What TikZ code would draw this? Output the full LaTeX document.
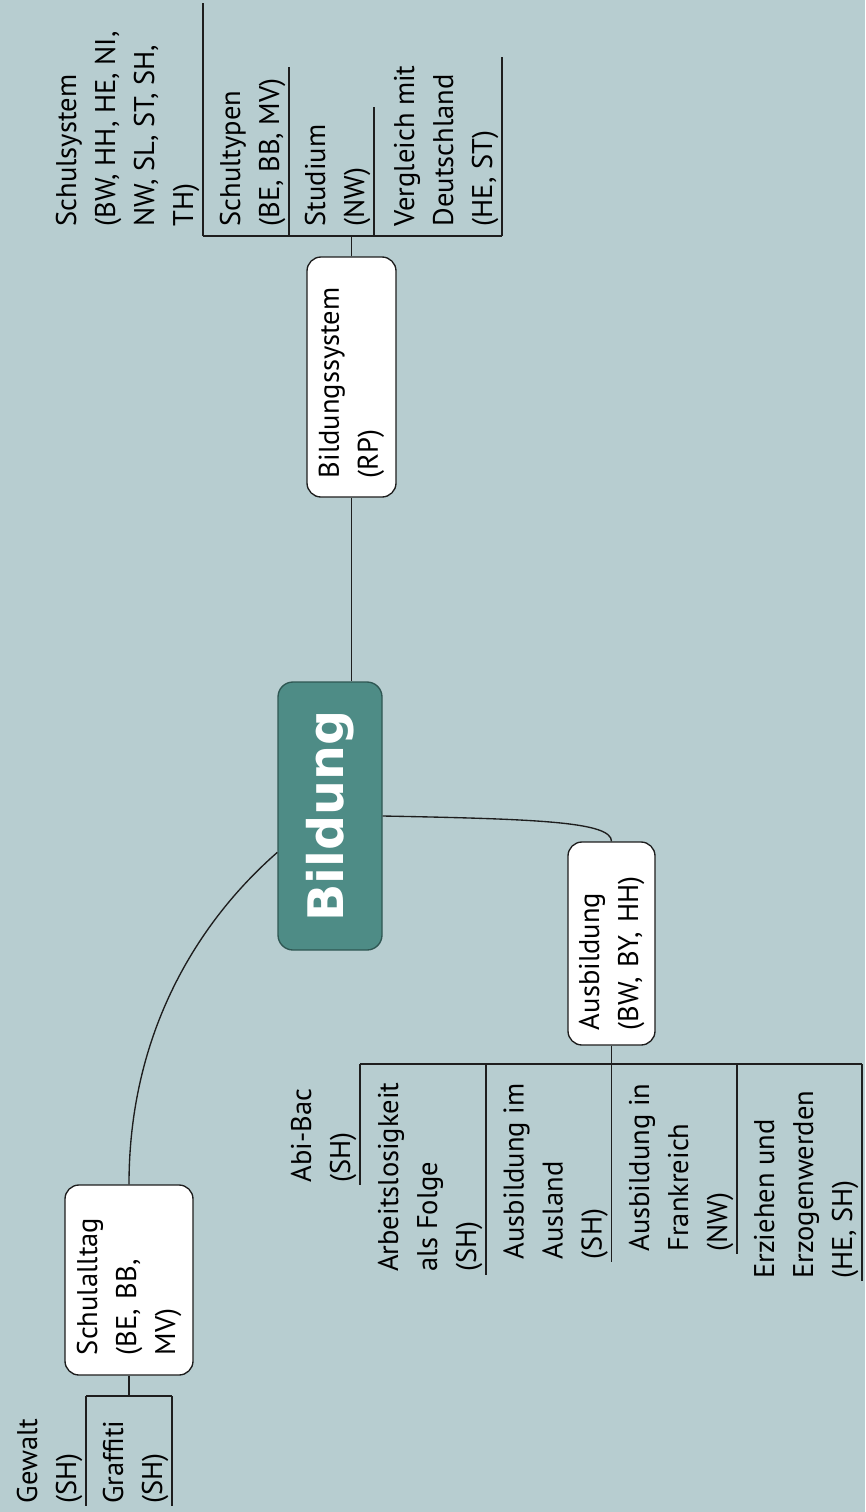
\documentclass[tikz,border=0pt]{standalone}
\usepackage{fontspec}
\setmainfont{PT Sans}
\newfontfamily\rootfont{DejaVu Sans}
\usetikzlibrary{calc}
\definecolor{bgc}{HTML}{B7CDD0}
\definecolor{rootc}{HTML}{4E8C86}
\definecolor{rootb}{HTML}{2F5753}
\definecolor{linec}{HTML}{1E1E1E}
\begin{document}
\begin{tikzpicture}[x=1pt,y=-1pt,line width=1.35pt,
  txt/.style={font=\fontsize{28.5}{39}\selectfont},
  leaf/.style={txt,rotate=90,align=left,inner xsep=2pt,inner ysep=3pt},
  topic/.style={txt,rotate=90,align=left,draw=linec,fill=white,rounded corners=14pt,line width=1.35pt},
  rootnode/.style={rotate=90,draw=rootb,fill=rootc,rounded corners=15pt,text=white,
     font=\rootfont\bfseries\fontsize{49}{55}\selectfont,inner sep=0pt,line width=1.35pt,
     minimum width=268pt,minimum height=104pt},
  conn/.style={draw=linec,line width=1.35pt}]
\fill[bgc] (0,0) rectangle (865,1512);
\useasboundingbox (0,0) rectangle (865,1512);

% root
\node[rootnode] (root) at (330,816) {Bildung};

% main topics
\node[topic,inner xsep=19pt,text width=202pt,minimum height=89pt] (bsys) at (351.5,377) {Bildungssystem\\(RP)};
\node[topic,inner xsep=15pt,text width=173pt,minimum height=87pt] (ausb) at (611.5,943.5) {Ausbildung\\(BW, BY, HH)};
\node[topic,inner xsep=20pt,text width=150pt,minimum height=128pt] (sa) at (129,1280) {Schulalltag\\(BE, BB,\\MV)};

% connectors from root
\draw[conn] (root.east -| bsys.west) -- (bsys.west);
\draw[conn] (root.south) .. controls (540,819) and (611.5,822) .. (ausb.east);
\draw[conn] ($(root.north)!0.27!(root.north west)$) .. controls (200,920) and (129,1030) .. (sa.east);

% Bildungssystem children
\coordinate (bkR) at (351.5,236);
\node[leaf,anchor=south west] (sys) at (203,229) {Schulsystem\\(BW, HH, HE, NI,\\NW, SL, ST, SH,\\TH)};
\node[leaf,anchor=south west] (typ) at (289,229) {Schultypen\\(BE, BB, MV)};
\node[leaf,anchor=south west] (stu) at (374,229) {Studium\\(NW)};
\node[leaf,anchor=south west] (verg) at (502,229) {Vergleich mit\\Deutschland\\(HE, ST)};
\draw[conn] (bsys.east) -- (bsys.east |- bkR);
\draw[conn] (sys.south west |- bkR) -- (verg.south west |- bkR);
\draw[conn] (sys.south west |- bkR) -- ++(0,-233);
\draw[conn] (typ.south west |- bkR) -- ++(0,-169);
\draw[conn] (stu.south west |- bkR) -- ++(0,-129);
\draw[conn] (verg.south west |- bkR) -- ++(0,-179);

% Ausbildung children
\coordinate (bkA) at (611.5,1064);
\node[leaf,anchor=south east] (abi) at (360,1086) {Abi-Bac\\(SH)};
\node[leaf,anchor=south east] (arb) at (486,1080) {Arbeitslosigkeit\\als Folge\\(SH)};
\node[leaf,anchor=south east] (ausl) at (611.5,1081) {Ausbildung im\\Ausland\\(SH)};
\node[leaf,anchor=south east] (frk) at (737,1081) {Ausbildung in\\Frankreich\\(NW)};
\node[leaf,anchor=south east] (erz) at (862,1088) {Erziehen und\\Erzogenwerden\\(HE, SH)};
\draw[conn] (ausb.west) -- (ausb.west |- bkA);
\draw[conn] (abi.south east |- bkA) -- (erz.south east |- bkA);
\draw[conn] (abi.south east |- bkA) -- (abi.south west);
\draw[conn] (arb.south east |- bkA) -- (arb.south west);
\draw[conn] (ausl.south east |- bkA) -- (ausl.south west);
\draw[conn] (frk.south east |- bkA) -- (frk.south west);
\draw[conn] (erz.south east |- bkA) -- (erz.south west);

% Schulalltag children
\coordinate (bkS) at (129,1396);
\node[leaf,anchor=south east] (gew) at (86,1416) {Gewalt\\(SH)};
\node[leaf,anchor=south east] (graf) at (172,1418) {Graffiti\\(SH)};
\draw[conn] (sa.west) -- (sa.west |- bkS);
\draw[conn] (gew.south east |- bkS) -- (graf.south east |- bkS);
\draw[conn] (gew.south east |- bkS) -- (gew.south west);
\draw[conn] (graf.south east |- bkS) -- (graf.south west);
\end{tikzpicture}
\end{document}
